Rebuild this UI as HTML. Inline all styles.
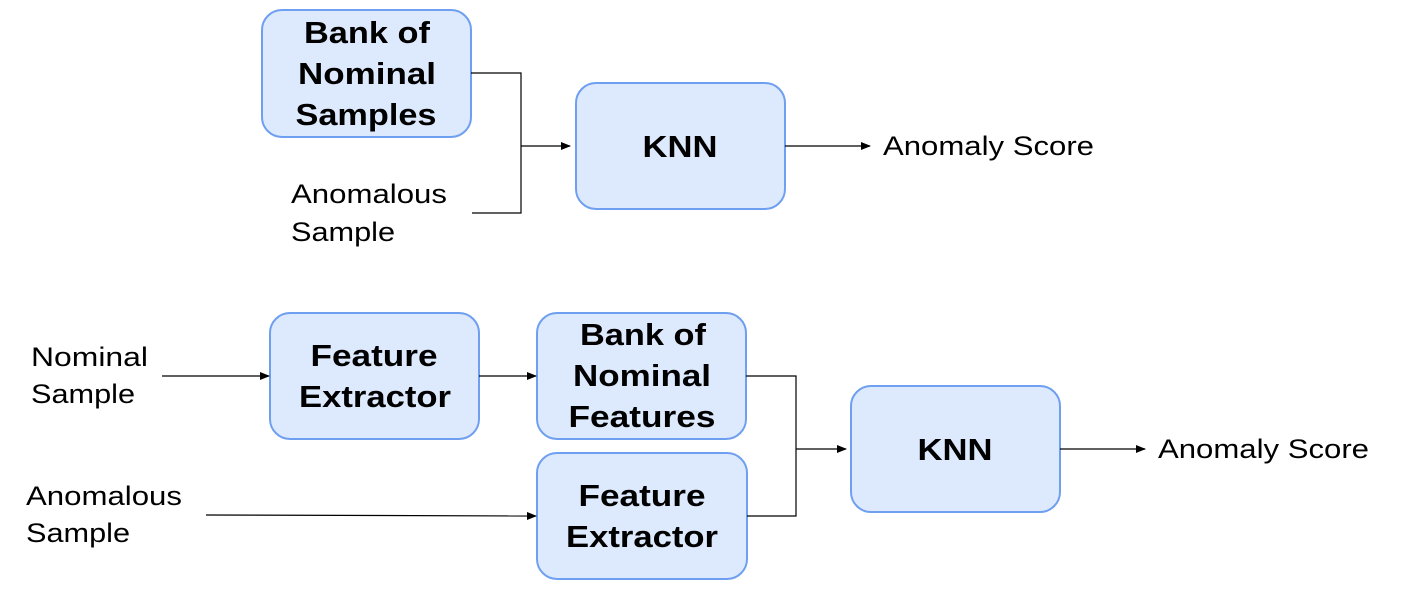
<!DOCTYPE html>
<html><head><style>
html,body{margin:0;padding:0;background:#fff;}
svg{display:block;}
text{font-family:"Liberation Sans",sans-serif;}
.b{fill:#dde9fc;stroke:#6f9ff0;stroke-width:2;}
.t{font-size:31px;font-weight:bold;fill:#000;text-anchor:middle;}
.l{font-size:27px;fill:#000;}
.c{fill:none;stroke:#000;stroke-width:1.2;}
</style></head><body>
<svg width="1402" height="598" viewBox="0 0 1402 598">
<defs><marker id="a" markerWidth="10" markerHeight="8" refX="9" refY="4" orient="auto" markerUnits="userSpaceOnUse"><path d="M0,0L10,4L0,8z" fill="#000"/></marker></defs>
<rect class="b" x="262" y="10" width="209" height="127" rx="20"/>
<text class="t" x="367" y="43" textLength="126" lengthAdjust="spacingAndGlyphs">Bank of</text><text class="t" x="367" y="84" textLength="138" lengthAdjust="spacingAndGlyphs">Nominal</text><text class="t" x="366" y="125" textLength="141" lengthAdjust="spacingAndGlyphs">Samples</text>
<rect class="b" x="576" y="83" width="209" height="126" rx="20"/>
<text class="t" x="680" y="157" textLength="75" lengthAdjust="spacingAndGlyphs">KNN</text>
<path class="c" d="M471,73H521V213H472"/>
<path class="c" d="M521,146H570" marker-end="url(#a)"/>
<path class="c" d="M785,146H870" marker-end="url(#a)"/>
<text class="l" x="883" y="155" textLength="211" lengthAdjust="spacingAndGlyphs">Anomaly Score</text>
<text class="l" x="291" y="203" textLength="156" lengthAdjust="spacingAndGlyphs">Anomalous</text><text class="l" x="291" y="241" textLength="104" lengthAdjust="spacingAndGlyphs">Sample</text>

<rect class="b" x="270" y="313" width="209" height="126" rx="20"/>
<text class="t" x="374" y="366" textLength="127" lengthAdjust="spacingAndGlyphs">Feature</text><text class="t" x="375" y="407" textLength="152" lengthAdjust="spacingAndGlyphs">Extractor</text>
<rect class="b" x="537" y="313" width="209" height="126" rx="20"/>
<text class="t" x="643" y="345" textLength="126" lengthAdjust="spacingAndGlyphs">Bank of</text><text class="t" x="642" y="386" textLength="138" lengthAdjust="spacingAndGlyphs">Nominal</text><text class="t" x="642" y="427" textLength="147" lengthAdjust="spacingAndGlyphs">Features</text>
<rect class="b" x="537" y="453" width="210" height="126" rx="20"/>
<text class="t" x="642" y="506" textLength="127" lengthAdjust="spacingAndGlyphs">Feature</text><text class="t" x="642" y="547" textLength="152" lengthAdjust="spacingAndGlyphs">Extractor</text>
<rect class="b" x="851" y="386" width="209" height="126" rx="20"/>
<text class="t" x="955" y="460" textLength="75" lengthAdjust="spacingAndGlyphs">KNN</text>
<text class="l" x="31" y="366" textLength="117" lengthAdjust="spacingAndGlyphs">Nominal</text><text class="l" x="31" y="403" textLength="104" lengthAdjust="spacingAndGlyphs">Sample</text>
<text class="l" x="26" y="505" textLength="156" lengthAdjust="spacingAndGlyphs">Anomalous</text><text class="l" x="26" y="542" textLength="104" lengthAdjust="spacingAndGlyphs">Sample</text>
<path class="c" d="M162,376H269" marker-end="url(#a)"/>
<path class="c" d="M479,376H536" marker-end="url(#a)"/>
<path class="c" d="M206,515L536,516" marker-end="url(#a)"/>
<path class="c" d="M746,376H796V516H747"/>
<path class="c" d="M796,449H846" marker-end="url(#a)"/>
<path class="c" d="M1060,449H1145" marker-end="url(#a)"/>
<text class="l" x="1158" y="458" textLength="211" lengthAdjust="spacingAndGlyphs">Anomaly Score</text>
</svg>
</body></html>
